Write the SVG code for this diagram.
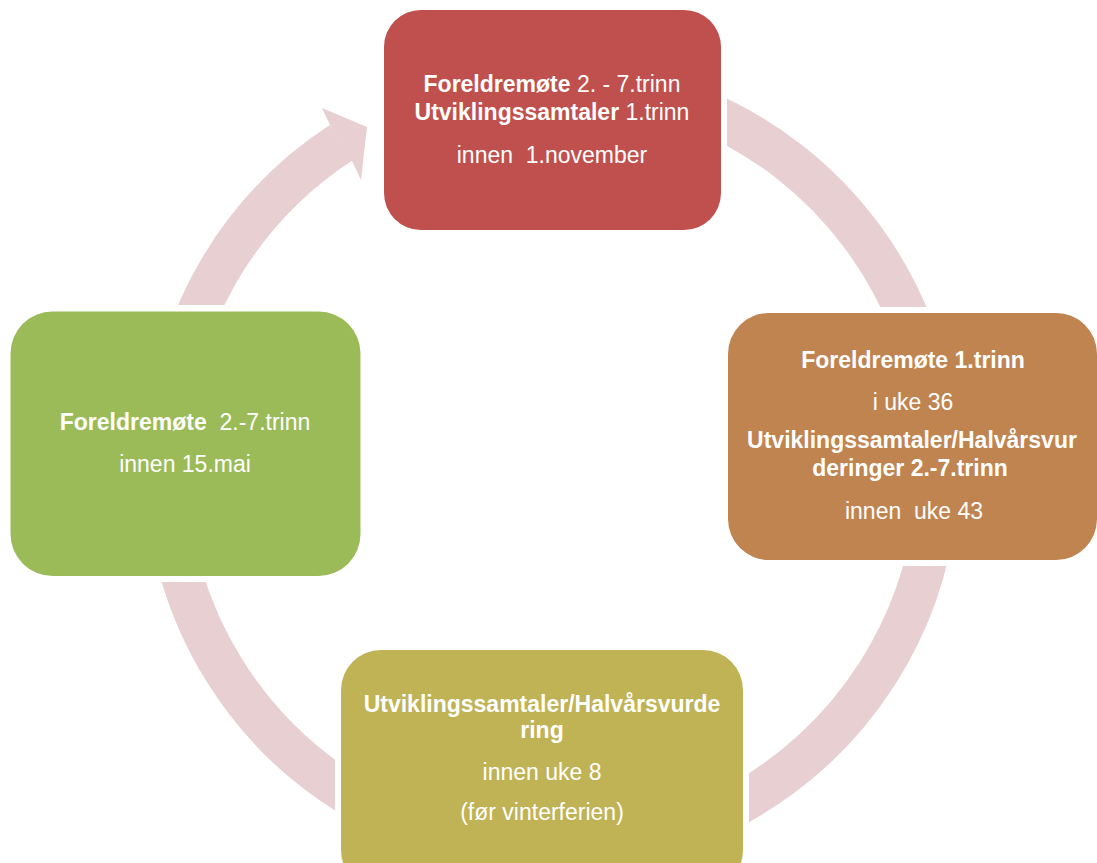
<svg xmlns="http://www.w3.org/2000/svg" width="1097" height="863" viewBox="0 0 1097 863">
<style>
  .lbl { font-family: "Liberation Sans", Arial, sans-serif; font-size: 23px; fill: #ffffff; text-anchor: middle; }
  .b { font-weight: bold; }
  .ring { fill: none; stroke: #E8CFD1; stroke-width: 42; }
  .head { fill: #E8CFD1; }
</style>
<defs>
  <mask id="gaps" maskUnits="userSpaceOnUse" x="0" y="0" width="1097" height="863">
    <rect x="0" y="0" width="1097" height="863" fill="#fff"/>
    <rect x="378" y="4" width="349" height="232" fill="#000"/>
    <rect x="722" y="307" width="380" height="259" fill="#000"/>
    <rect x="4" y="305" width="363" height="277" fill="#000"/>
    <rect x="335" y="644" width="414" height="230" fill="#000"/>
  </mask>
</defs>
<rect x="0" y="0" width="1097" height="863" fill="#ffffff"/>
<g id="connectors">
  <path class="ring" mask="url(#gaps)" d="M 419.98 103.28 A 386 386 0 1 1 341.2 142.6"/>
  <polygon class="head" points="331,127 322,108 367,127 361,180 352,161"/>
</g>
<g id="node-top">
  <rect x="384" y="10" width="337" height="220" rx="37" fill="#C0504D"/>
  <text class="lbl" x="552" y="92" xml:space="preserve"><tspan class="b">Foreldremøte</tspan> 2. - 7.trinn</text>
  <text class="lbl" x="552" y="120" xml:space="preserve"><tspan class="b">Utviklingssamtaler</tspan> 1.trinn</text>
  <text class="lbl" x="552" y="163" xml:space="preserve">innen  1.november</text>
</g>
<g id="node-right">
  <rect x="728" y="313" width="369" height="247" rx="41" fill="#BF8450"/>
  <text class="lbl b" x="913" y="368">Foreldremøte 1.trinn</text>
  <text class="lbl" x="913" y="410">i uke 36</text>
  <text class="lbl b" x="912" y="448">Utviklingssamtaler/Halvårsvur</text>
  <text class="lbl b" x="910" y="476">deringer 2.-7.trinn</text>
  <text class="lbl" x="914" y="519" xml:space="preserve">innen  uke 43</text>
</g>
<g id="node-bottom">
  <rect x="341" y="650" width="402" height="240" rx="40" fill="#BFB356"/>
  <text class="lbl b" x="542" y="712">Utviklingssamtaler/Halvårsvurde</text>
  <text class="lbl b" x="542" y="738">ring</text>
  <text class="lbl" x="542" y="780">innen uke 8</text>
  <text class="lbl" x="542" y="820">(før vinterferien)</text>
</g>
<g id="node-left">
  <rect x="10.5" y="311.5" width="350" height="264.5" rx="42" fill="#9BBB59"/>
  <text class="lbl" x="185" y="430" xml:space="preserve"><tspan class="b">Foreldremøte</tspan>  2.-7.trinn</text>
  <text class="lbl" x="185" y="472">innen 15.mai</text>
</g>
</svg>
